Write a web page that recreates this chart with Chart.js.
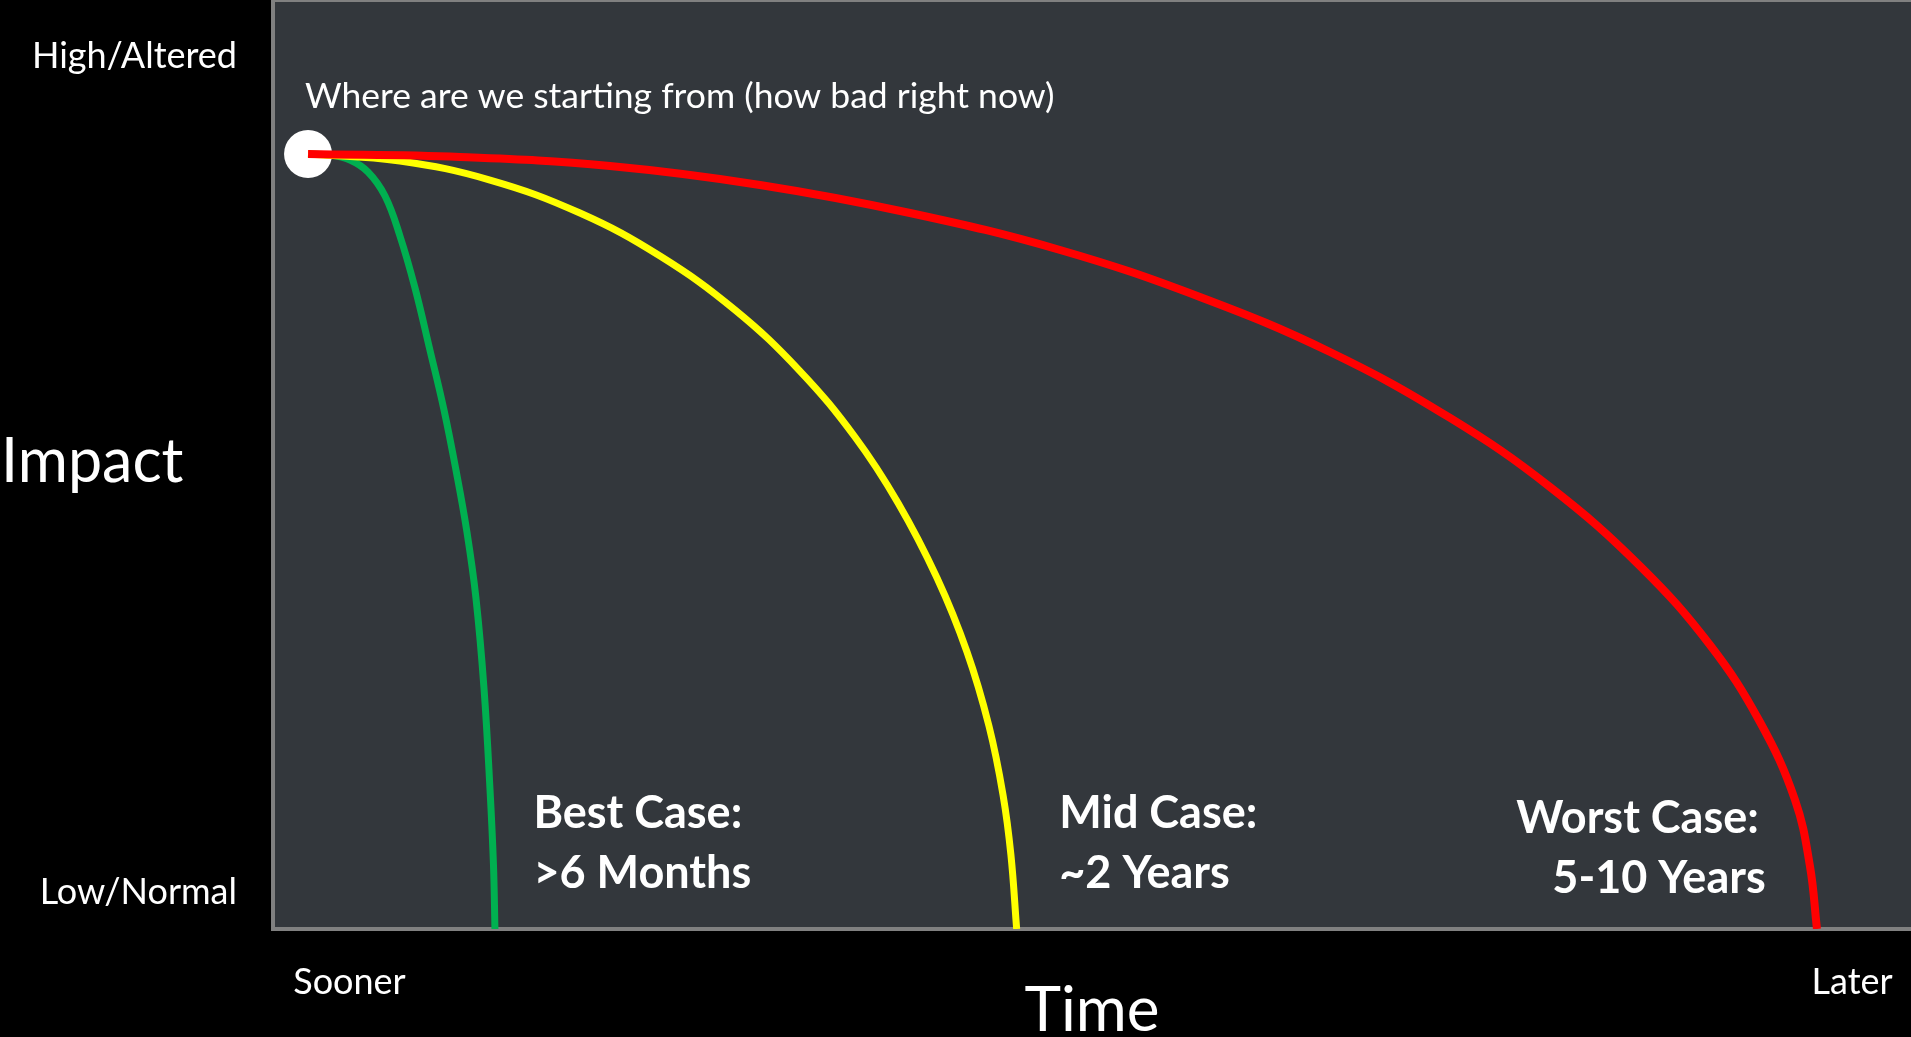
<!DOCTYPE html>
<html>
<head>
<meta charset="utf-8">
<script src="https://cdn.jsdelivr.net/npm/chart.js@4.4.1/dist/chart.umd.min.js"></script>
<style>
  html, body { margin: 0; padding: 0; background: #000; overflow: hidden; }
  #wrap { width: 1911px; height: 1037px; position: relative; }
</style>
</head>
<body>
<div id="wrap"><canvas id="myChart"></canvas></div>
<script>
// values: time 0-100 across the plot, impact 0-100 up the plot
const startX = [2.14];
const startY = [83.42];

const bestX = [2.14, 3.48, 4.70, 5.80, 6.84, 7.75, 8.67, 9.58, 10.44, 11.17, 11.84, 12.39, 12.88, 13.25, 13.46, 13.55];
const bestY = [83.42, 83.32, 82.78, 81.49, 78.90, 74.60, 69.00, 62.33, 55.87, 49.41, 42.73, 35.63, 25.94, 14.96, 6.89, 0];

const midX = [2.14, 7.75, 13.25, 18.74, 23.63, 28.21, 32.17, 35.53, 38.16, 40.54, 42.37, 43.71, 44.57, 45.05, 45.40];
const midY = [83.42, 82.67, 80.62, 77.07, 72.44, 66.63, 60.06, 52.96, 45.86, 37.78, 29.82, 21.85, 14.42, 7.97, 0];

const worstX = [2.14, 11.42, 20.57, 29.73, 38.89, 48.05, 56.59, 64.53, 71.86, 77.96, 83.46, 87.73, 90.78, 92.92, 93.83, 94.26];
const worstY = [83.42, 83.10, 82.13, 80.09, 77.07, 73.09, 68.03, 62.11, 55.01, 47.58, 39.07, 30.57, 22.28, 13.89, 6.78, 0];

const xTickVals = [4.67, 96.4];
const xTickLabels = ["Sooner", "Later"];
const yTickVals = [3.9, 93.9];
const yTickLabels = ["Low/Normal", "High/Altered"];

const caseNames = ["Best Case:", "Mid Case:", "Worst Case:"];
const caseSpans = [">6 Months", "~2 Years", "5-10 Years"];
const startNote = "Where are we starting from (how bad right now)";

function pts(xs, ys) {
  return xs.map((v, i) => ({ x: v, y: ys[i] }));
}

Chart.defaults.font.family = "Lato, 'Open Sans', sans-serif";
Chart.defaults.color = "#ffffff";

// dark plot box with grey frame
const plotFrame = {
  id: "plotFrame",
  beforeDraw(chart) {
    const { ctx, chartArea: a } = chart;
    ctx.save();
    ctx.fillStyle = "#33373c";
    ctx.fillRect(a.left, a.top, a.right - a.left, a.bottom - a.top);
    ctx.strokeStyle = "#808080";
    ctx.lineWidth = 4;
    ctx.beginPath();
    ctx.moveTo(a.right + 5, a.top);
    ctx.lineTo(a.left, a.top);
    ctx.lineTo(a.left, a.bottom);
    ctx.lineTo(a.right + 5, a.bottom);
    ctx.stroke();
    ctx.restore();
  },
};

// text notes placed with the chart scales
const notes = {
  id: "notes",
  afterDatasetsDraw(chart) {
    const { ctx, scales } = chart;
    const put = (text, xv, yv, font) => {
      ctx.font = font;
      ctx.fillText(text, scales.x.getPixelForValue(xv), scales.y.getPixelForValue(yv));
    };
    ctx.save();
    ctx.fillStyle = "#ffffff";
    ctx.textAlign = "left";
    ctx.textBaseline = "alphabetic";
    put(startNote, 1.95, 88.4, "35.5px Lato");
    put("Impact", -16.6, 48.1, "61px Lato");
    const bold = "bold 45px Lato";
    put(caseNames[0], 15.9, 10.87, bold);
    put(caseSpans[0], 15.9, 4.41, bold);
    put(caseNames[1], 48.0, 10.87, bold);
    put(caseSpans[1], 48.0, 4.41, bold);
    put(caseNames[2], 75.9, 10.33, bold);
    put(caseSpans[2], 78.1, 3.88, bold);
    ctx.restore();
  },
};

const curve = {
  showLine: true,
  pointRadius: 0,
  pointHoverRadius: 0,
  tension: 0.4,
};

const ctx = document.getElementById("myChart");

var chart = new Chart(ctx, {
  type: "scatter",
  data: {
    datasets: [
      Object.assign({ label: "Worst Case", data: pts(worstX, worstY), borderColor: "#ff0000", borderWidth: 8 }, curve),
      Object.assign({ label: "Mid Case", data: pts(midX, midY), borderColor: "#ffff00", borderWidth: 7 }, curve),
      Object.assign({ label: "Best Case", data: pts(bestX, bestY), borderColor: "#00b050", borderWidth: 7 }, curve),
      {
        label: "Now",
        data: pts(startX, startY),
        pointRadius: 24,
        backgroundColor: "#ffffff",
        borderWidth: 0,
        showLine: false,
      },
    ],
  },
  options: {
    responsive: true,
    maintainAspectRatio: false,
    animation: false,
    layout: { padding: 0, autoPadding: false },
    plugins: {
      legend: { display: false },
      tooltip: { enabled: false },
    },
    scales: {
      x: {
        type: "linear",
        min: 0,
        max: 100,
        grid: { display: false, drawTicks: false },
        border: { display: false },
        afterBuildTicks: (scale) => {
          scale.ticks = xTickVals.map((v) => ({ value: v }));
        },
        afterFit: (scale) => {
          scale.height = 108;
          scale.paddingLeft = 0;
          scale.paddingRight = 0;
        },
        ticks: {
          padding: 32,
          maxRotation: 0,
          autoSkip: false,
          font: { size: 36 },
          color: "#ffffff",
          callback: (value, index) => xTickLabels[index],
        },
        title: {
          display: true,
          text: "Time",
          color: "#ffffff",
          font: { size: 62, lineHeight: 0.84 },
          padding: 0,
        },
      },
      y: {
        type: "linear",
        min: 0,
        max: 100,
        grid: { display: false, drawTicks: false },
        border: { display: false },
        afterBuildTicks: (scale) => {
          scale.ticks = yTickVals.map((v) => ({ value: v }));
        },
        afterFit: (scale) => {
          scale.width = 273;
          scale.paddingTop = 0;
          scale.paddingBottom = 0;
        },
        ticks: {
          padding: 36,
          autoSkip: false,
          font: { size: 36 },
          color: "#ffffff",
          callback: (value, index) => yTickLabels[index],
        },
      },
    },
  },
  plugins: [plotFrame, notes],
});
</script>
</body>
</html>
